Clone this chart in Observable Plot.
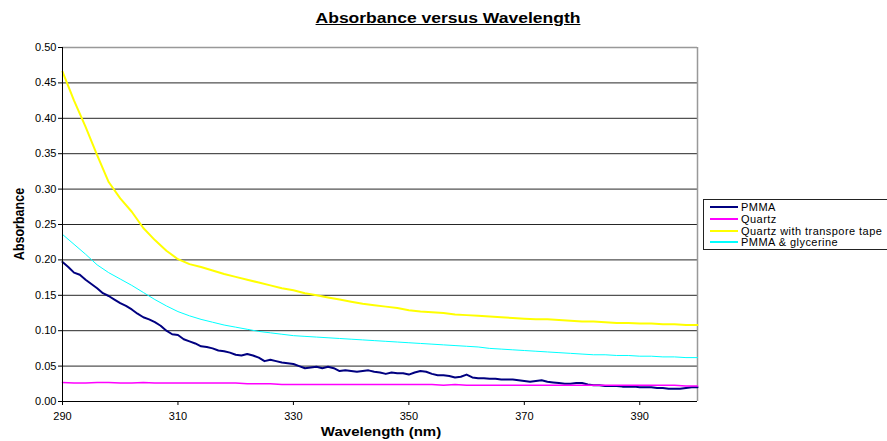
<!DOCTYPE html>
<html>
<head>
<meta charset="utf-8">
<script src="https://cdn.jsdelivr.net/npm/d3@7"></script>
<script src="https://cdn.jsdelivr.net/npm/@observablehq/plot@0.6"></script>
<style>
  html, body { margin: 0; padding: 0; background: #fff; }
  body { width: 887px; height: 441px; overflow: hidden; position: relative; font-family: "Liberation Sans", Arial, sans-serif; }
  #title { position: absolute; top: 10px; left: 0; width: 896px; text-align: center; font-weight: bold; font-size: 14px; line-height: 16px; text-decoration: underline; transform: scaleX(1.25); transform-origin: 448px 0; white-space: nowrap; }
  #xlabel { position: absolute; top: 425px; left: 0; width: 762px; text-align: center; font-weight: bold; font-size: 12px; line-height: 14px; transform: scaleX(1.25); transform-origin: 381px 0; white-space: nowrap; }
  #ylabel { position: absolute; left: -31px; top: 216px; width: 100px; height: 16px; line-height: 16px; text-align: center; font-weight: bold; font-size: 12.5px; transform: rotate(-90deg) scale(1, 1.2); transform-origin: 50px 8px; white-space: nowrap; }
  #chart { position: absolute; top: 0; left: 0; }
  #legend { position: absolute; left: 703px; top: 199px; width: 200px; height: 51px; border: 1px solid #222; box-sizing: border-box; font-size: 11px; letter-spacing: 0.45px; }
  .row { position: absolute; left: 6px; height: 12px; line-height: 12px; white-space: nowrap; }
  .sw { display: inline-block; width: 28px; height: 2px; vertical-align: middle; margin-right: 3px; position: relative; top: -1px; }
</style>
</head>
<body>
<div id="chart"></div>
<div id="title">Absorbance versus Wavelength</div>
<div id="xlabel">Wavelength (nm)</div>
<div id="ylabel">Absorbance</div>
<div id="legend"></div>
<script>
const seriesNames = ["PMMA", "Quartz", "Quartz with transpore tape", "PMMA & glycerine"];
const seriesColors = ["#000080", "#FF00FF", "#FFFF00", "#00FFFF"];
const seriesWidths = [2, 1.5, 2, 1];

const xTicks = [290, 310, 330, 350, 370, 390];
const yTicks = [0, 0.05, 0.10, 0.15, 0.20, 0.25, 0.30, 0.35, 0.40, 0.45, 0.50];

// PMMA, 1 nm steps 290..400
const wlPMMA = d3.range(290, 401, 1);
const absPMMA = [
  0.197,0.190,0.182,0.179,0.172,0.166,0.160,0.153,0.149,0.144,
  0.139,0.135,0.130,0.124,0.119,0.116,0.112,0.107,0.100,0.095,
  0.094,0.088,0.085,0.082,0.078,0.077,0.075,0.072,0.071,0.069,
  0.066,0.065,0.067,0.065,0.062,0.057,0.059,0.057,0.055,0.054,
  0.053,0.050,0.047,0.048,0.049,0.047,0.049,0.047,0.043,0.044,
  0.043,0.042,0.043,0.044,0.042,0.041,0.039,0.041,0.040,0.040,
  0.038,0.041,0.043,0.042,0.039,0.037,0.037,0.036,0.034,0.035,
  0.038,0.034,0.033,0.033,0.032,0.032,0.031,0.031,0.031,0.030,
  0.029,0.028,0.029,0.030,0.028,0.027,0.026,0.025,0.025,0.026,
  0.026,0.024,0.023,0.023,0.022,0.022,0.022,0.021,0.021,0.021,
  0.020,0.020,0.020,0.019,0.019,0.018,0.018,0.018,0.019,0.020,
  0.020
];

// Other series, 2 nm steps 290..400
const wl2 = d3.range(290, 401, 2);
const absQuartz = [
  0.027,0.026,0.026,0.027,0.027,0.026,0.026,0.027,0.026,0.026,
  0.026,0.026,0.026,0.026,0.026,0.026,0.025,0.025,0.025,0.024,
  0.024,0.024,0.024,0.024,0.024,0.024,0.024,0.024,0.024,0.024,
  0.024,0.024,0.024,0.023,0.024,0.023,0.023,0.023,0.023,0.023,
  0.023,0.023,0.023,0.023,0.023,0.023,0.023,0.023,0.023,0.023,
  0.023,0.023,0.023,0.023,0.022,0.022
];
const absTape = [
  0.466,0.425,0.388,0.348,0.310,0.287,0.268,0.245,0.228,0.213,
  0.201,0.194,0.190,0.185,0.180,0.176,0.172,0.168,0.164,0.160,
  0.157,0.153,0.150,0.147,0.144,0.141,0.138,0.136,0.134,0.132,
  0.129,0.127,0.126,0.125,0.123,0.122,0.121,0.120,0.119,0.118,
  0.117,0.116,0.116,0.115,0.114,0.113,0.113,0.112,0.111,0.111,
  0.110,0.110,0.109,0.109,0.108,0.108
];
const absGly = [
  0.236,0.222,0.208,0.193,0.182,0.173,0.164,0.154,0.144,0.135,
  0.127,0.121,0.116,0.112,0.108,0.105,0.102,0.099,0.097,0.095,
  0.093,0.092,0.091,0.090,0.089,0.088,0.087,0.086,0.085,0.084,
  0.083,0.082,0.081,0.080,0.079,0.078,0.077,0.075,0.074,0.073,
  0.072,0.071,0.070,0.069,0.068,0.067,0.066,0.066,0.065,0.065,
  0.064,0.064,0.063,0.063,0.062,0.062
];

const series = [
  wlPMMA.map((w, i) => ({w, a: absPMMA[i]})),
  wl2.map((w, i) => ({w, a: absQuartz[i]})),
  wl2.map((w, i) => ({w, a: absTape[i]})),
  wl2.map((w, i) => ({w, a: absGly[i]}))
];

const gridTicks = yTicks.filter(t => t > 0 && t < 0.5);

const chart = Plot.plot({
  width: 700,
  height: 441,
  marginLeft: 62,
  marginRight: 3,
  marginTop: 47,
  marginBottom: 40,
  style: {fontFamily: "'Liberation Sans', Arial, sans-serif", fontSize: "11px", background: "transparent", overflow: "visible"},
  x: {domain: [290, 400]},
  y: {domain: [0, 0.5]},
  marks: [
    Plot.ruleY(gridTicks, {stroke: "#000", strokeWidth: 1, strokeOpacity: 0.85}),
    Plot.ruleY([0.5], {stroke: "#999", strokeWidth: 1.5}),
    Plot.ruleX([400], {stroke: "#999", strokeWidth: 1.5}),
    ...series.map((s, i) => Plot.line(s, {x: "w", y: "a", stroke: seriesColors[i], strokeWidth: seriesWidths[i]})),
    Plot.ruleX([290], {stroke: "#000", strokeWidth: 1}),
    Plot.ruleY([0], {stroke: "#000", strokeWidth: 1}),
    Plot.axisY({ticks: yTicks, tickSize: 4, tickFormat: d3.format(".2f"), tickPadding: 2, label: null, fill: "#000", stroke: "#000"}),
    Plot.axisX({ticks: xTicks, tickSize: 4, tickPadding: 7, label: null, fill: "#000", stroke: "#000"})
  ]
});
document.getElementById("chart").appendChild(chart);

const legend = document.getElementById("legend");
seriesNames.forEach((name, i) => {
  const row = document.createElement("div");
  row.className = "row";
  row.style.top = (1 + i * 11.8) + "px";
  const sw = document.createElement("span");
  sw.className = "sw";
  sw.style.background = seriesColors[i];
  row.appendChild(sw);
  row.appendChild(document.createTextNode(name));
  legend.appendChild(row);
});
</script>
</body>
</html>
